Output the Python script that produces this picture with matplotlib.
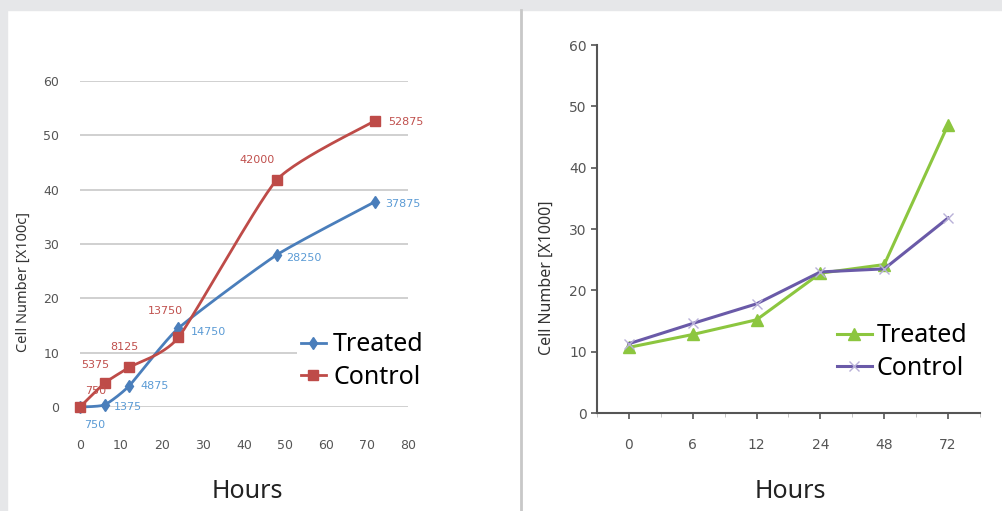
import numpy as np
import matplotlib.pyplot as plt
from matplotlib.lines import Line2D

# left chart: hours vs cell number (x1000), with data labels
hours_left = [0, 6, 12, 24, 48, 72]
treated_left = [0.0, 0.4, 3.9, 14.5, 28.0, 37.8]
control_left = [0.0, 4.4, 7.3, 12.8, 41.8, 52.7]
treated_labels = ["750", "1375", "4875", "14750", "28250", "37875"]
control_labels = ["750", "5375", "8125", "13750", "42000", "52875"]

# right chart: categorical hours
hours_right = ["0", "6", "12", "24", "48", "72"]
treated_right = [10.7, 12.8, 15.2, 22.8, 24.2, 47.0]
control_right = [11.3, 14.6, 17.8, 23.0, 23.5, 31.8]

BLUE = "#4a7ebb"
RED = "#be4b48"
GREEN = "#8cc63f"
PURPLE = "#6a5aa8"
TICK = "#555555"

plt.rcParams['font.family'] = ['Noto Sans', 'DejaVu Sans']
narrow = ['Liberation Sans Narrow', 'DejaVu Sans Condensed', 'DejaVu Sans']


def smooth(xs, ys, n=30, tension=0.55):
    # cardinal spline through the points (like excel smoothed lines)
    p = np.column_stack([xs, ys]).astype(float)
    p = np.vstack([p[0], p, p[-1]])
    out = []
    t = np.linspace(0, 1, n)[:, None]
    for i in range(1, len(p) - 2):
        p0, p1, p2, p3 = p[i - 1], p[i], p[i + 1], p[i + 2]
        m1 = tension * (p2 - p0) / 2
        m2 = tension * (p3 - p1) / 2
        h00 = 2 * t ** 3 - 3 * t ** 2 + 1
        h10 = t ** 3 - 2 * t ** 2 + t
        h01 = -2 * t ** 3 + 3 * t ** 2
        h11 = t ** 3 - t ** 2
        out.append(h00 * p1 + h10 * m1 + h01 * p2 + h11 * m2)
    out = np.vstack(out)
    return out[:, 0], out[:, 1]


fig = plt.figure(figsize=(10.03, 5.11), dpi=100, facecolor="white")

# grey frame strips and divider
fig.patches.append(plt.Rectangle((0, 1 - 10 / 511), 1, 10 / 511, transform=fig.transFigure,
                                 color="#e6e7e9", zorder=-5))
fig.patches.append(plt.Rectangle((0, 0), 7 / 1003, 1, transform=fig.transFigure,
                                 color="#e6e7e9", zorder=-5))
fig.add_artist(Line2D([521 / 1003, 521 / 1003], [0, 1 - 10 / 511], transform=fig.transFigure,
                      color="#c8c8c8", lw=2))

# ---- left chart ----
ax1 = fig.add_axes([80 / 1003, 104 / 511, 328 / 1003, 326 / 511])
ax1.set_xlim(0, 80)
ax1.set_ylim(0, 60)
ax1.set_xticks(range(0, 81, 10))
ax1.set_yticks(range(0, 61, 10))
ax1.grid(axis="y", color="#c8c8c8", lw=1.2)
ax1.set_axisbelow(True)
for s in ax1.spines.values():
    s.set_visible(False)
ax1.tick_params(length=0, colors=TICK, labelsize=9)
ax1.tick_params(axis="x", pad=23)
ax1.tick_params(axis="y", pad=15)
for lab in ax1.get_xticklabels() + ax1.get_yticklabels():
    lab.set_family(narrow)

sx, sy = smooth(hours_left, treated_left)
ax1.plot(sx, sy, color=BLUE, lw=2, clip_on=False)
ax1.plot(hours_left, treated_left, ls="none", marker="d", ms=6, color=BLUE, clip_on=False)
sx, sy = smooth(hours_left, control_left)
ax1.plot(sx, sy, color=RED, lw=2, clip_on=False)
ax1.plot(hours_left, control_left, ls="none", marker="s", ms=7, color=RED, clip_on=False)

t_off = [(3, -13), (7, -1.5), (8, 0), (9, -3), (7, -2), (7, -1.5)]
c_off = [(3.5, 11.5), (-17, 13), (-14, 15), (-22, 19), (-27, 14), (9, -1)]
for x, y, lab, off in zip(hours_left, treated_left, treated_labels, t_off):
    ax1.annotate(lab, (x, y), xytext=off, textcoords="offset points", color="#5b9bd5",
                 fontsize=8, family=narrow, va="center", annotation_clip=False)
for x, y, lab, off in zip(hours_left, control_left, control_labels, c_off):
    ax1.annotate(lab, (x, y), xytext=off, textcoords="offset points", color="#c0504d",
                 fontsize=8, family=narrow, va="center", annotation_clip=False)

h1 = Line2D([], [], color=BLUE, lw=2, marker="d", ms=6)
h2 = Line2D([], [], color=RED, lw=2, marker="s", ms=7)
leg = ax1.legend([h1, h2], ["Treated", "Control"], loc="center left",
                 bbox_to_anchor=(297 / 1003, 150 / 511), bbox_transform=fig.transFigure,
                 frameon=True, fontsize=18, handlelength=1.0, handletextpad=0.3,
                 labelspacing=0.3, borderpad=0.15, borderaxespad=0)
leg.get_frame().set_edgecolor("none")
leg.get_frame().set_facecolor("white")
leg.get_frame().set_alpha(1)
ax1.set_ylabel("Cell Number [X100c]", fontsize=10.5, color="#333333")
ax1.yaxis.set_label_coords(-49 / 328, (407 - 282) / 326)
fig.text(247 / 1003, 20 / 511, "Hours", fontsize=18, ha="center", va="center", color="#222222")

# ---- right chart ----
ax2 = fig.add_axes([597 / 1003, 98 / 511, 383 / 1003, 368 / 511])
xpos = np.arange(len(hours_right))
ax2.plot(xpos, treated_right, color=GREEN, lw=2.2, marker="^", ms=8, label="Treated")
ax2.plot(xpos, control_right, color=PURPLE, lw=2.2, marker="x", ms=7, mew=1,
         mec="#b8b0d8", label="Control")
ax2.set_xlim(-0.5, 5.5)
ax2.set_ylim(0, 60)
ax2.set_xticks(xpos)
ax2.set_xticklabels(hours_right)
ax2.set_xticks(np.arange(-0.5, 5.6, 1), minor=True)
ax2.set_yticks(range(0, 61, 10))
for s in ["top", "right"]:
    ax2.spines[s].set_visible(False)
for s in ["left", "bottom"]:
    ax2.spines[s].set_color("#555555")
    ax2.spines[s].set_linewidth(1.5)
ax2.tick_params(colors=TICK, labelsize=10, length=4, width=1.2)
ax2.tick_params(axis="x", pad=14)
ax2.tick_params(axis="x", which="minor", length=3, color="#bbbbbb")
for lab in ax2.get_xticklabels() + ax2.get_yticklabels():
    lab.set_family(narrow)
ax2.legend(loc="center left", bbox_to_anchor=(827 / 1003, 159 / 511),
           bbox_transform=fig.transFigure, frameon=False, fontsize=18,
           handlelength=1.4, handletextpad=0.2, labelspacing=0.3, borderaxespad=0)
ax2.set_ylabel("Cell Number [X1000]", fontsize=11.5, color="#333333")
ax2.yaxis.set_label_coords(-42 / 383, (413 - 278) / 368)
fig.text(790 / 1003, 20 / 511, "Hours", fontsize=18, ha="center", va="center", color="#222222")

fig.savefig("out.png", dpi=100, facecolor="white")
